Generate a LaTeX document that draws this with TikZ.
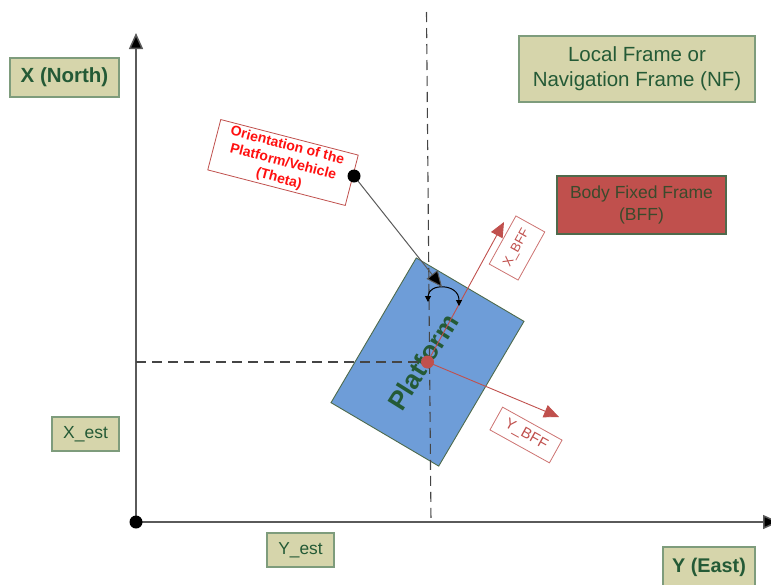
\documentclass[tikz,border=0pt]{standalone}
\usepackage{fontspec}
\setmainfont{Liberation Sans}
\usetikzlibrary{arrows.meta}
\definecolor{tanfill}{HTML}{D6D5AB}
\definecolor{tanline}{HTML}{7E9C7C}
\definecolor{leaf}{HTML}{245A36}
\definecolor{brick}{HTML}{C0504D}
\definecolor{brickline}{HTML}{4E6A4C}
\definecolor{bricktext}{HTML}{3B4A2C}
\definecolor{sky}{HTML}{6E9DD8}
\definecolor{axisgray}{HTML}{5A5A5A}
\definecolor{dashgray}{HTML}{454545}
\definecolor{labelred}{HTML}{FF1010}
\tikzset{
  tanbox/.style={draw=tanline, line width=1.3pt, fill=tanfill, text=leaf,
    inner sep=0pt, align=center},
  axisline/.style={draw=axisgray, line width=1.5pt,
    -{Triangle[length=16pt,width=14pt,fill=black]}},
  guide/.style={draw=dashgray, line width=1.1pt, dash pattern=on 10pt off 6pt},
  bffarrow/.style={draw=brick, line width=0.9pt,
    -{Triangle[length=15pt,width=13pt,fill=brick]}},
  bfftag/.style={draw=brick!80, line width=0.8pt, fill=white, text=brick,
    inner sep=0pt},
}
\begin{document}
\begin{tikzpicture}[x=1pt,y=-1pt]
\useasboundingbox (0,0) rectangle (771,584);

% frame axes
\coordinate (origin) at (136,522);
\coordinate (xtip) at (136,33);
\coordinate (ytip) at (779,522);
\draw[axisline] (origin) -- (xtip);
\draw[axisline] (origin) -- (ytip);
\fill[black] (origin) circle (6.5pt);

% estimated position guides
\coordinate (vtop) at (426.5,12);
\coordinate (vbot) at (431,522);
\coordinate (hleft) at (136,362);

% platform body
\node[draw=brickline, line width=0.9pt, fill=sky, minimum width=125pt,
  minimum height=168pt, rotate=-30.5, inner sep=0pt] (platform) at (427.5,362) {};
\node[text=leaf, font=\bfseries\fontsize{26.5}{28}\selectfont, rotate=58]
  (platformtext) at (423,362) {Platform};

\draw[guide] (vtop) -- (vbot);
\draw[guide] (hleft) -- (platform.center);

% body fixed axes
\coordinate (xbff) at (504,222);
\coordinate (ybff) at (559,417);
\draw[bffarrow] (platform.center) -- (xbff);
\draw[bffarrow] (platform.center) -- (ybff);
\fill[brick] (platform.center) circle (6.5pt);
\node[bfftag, minimum width=55pt, minimum height=33pt, rotate=61,
  font=\fontsize{13}{15}\selectfont] (xbfftag) at (517,248) {X\_BFF};
\node[bfftag, minimum width=68pt, minimum height=26pt, rotate=-29,
  font=\fontsize{15}{17}\selectfont] (ybfftag) at (526,435) {Y\_BFF};

% heading angle
\coordinate (arcl) at (428,302);
\coordinate (arcr) at (459,306);
\draw[black, line width=1pt, {Triangle[length=6pt,width=6pt]}-{Triangle[length=6pt,width=6pt]}]
  (arcl) .. controls (428,283) and (459,283) .. (arcr);

% orientation label
\node[draw=brick, line width=0.8pt, fill=white, text=labelred, rotate=-14.5,
  minimum width=142pt, minimum height=52pt, align=center, inner sep=0pt,
  font=\bfseries\fontsize{14}{17}\selectfont] (theta) at (283,162.5)
  {Orientation of the\\Platform/Vehicle\\(Theta)};
\coordinate (thetadot) at (354,176);
\coordinate (thetatip) at (442,287);
\draw[draw=axisgray, line width=1pt, -{Triangle[length=16pt,width=14pt,fill=black]}]
  (thetadot) -- (thetatip);
\fill[black] (thetadot) circle (6.5pt);

% frame labels
\node[tanbox, minimum width=109pt, minimum height=39pt,
  font=\bfseries\fontsize{20.5}{22}\selectfont] (north) at (64.5,77.5) {X (North)};
\node[tanbox, minimum width=92pt, minimum height=40pt,
  font=\bfseries\fontsize{19.8}{22}\selectfont] (east) at (709,567) {Y (East)};
\node[tanbox, minimum width=236pt, minimum height=66pt,
  font=\fontsize{20.5}{25}\selectfont] (nf) at (637,69) {Local Frame or\\Navigation Frame (NF)};
\node[draw=brickline, line width=1.3pt, fill=brick, text=bricktext, inner sep=0pt,
  minimum width=169pt, minimum height=58pt, align=center,
  font=\fontsize{17.5}{22}\selectfont] (bff) at (641.5,205) {Body Fixed Frame\\(BFF)};
\node[tanbox, minimum width=67pt, minimum height=34pt,
  font=\fontsize{17.5}{19}\selectfont] (xest) at (85.5,434) {X\_est};
\node[tanbox, minimum width=67pt, minimum height=34pt,
  font=\fontsize{17.3}{19}\selectfont] (yest) at (300.5,550) {Y\_est};
\end{tikzpicture}
\end{document}
